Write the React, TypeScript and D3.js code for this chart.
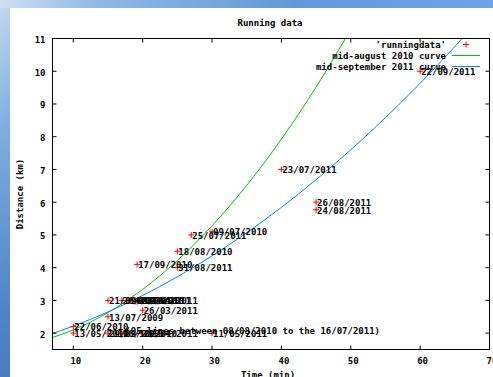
import React from "react";
import * as d3 from "d3";

const W = 493;
const H = 377;

// x ticks (min) and y ticks (km)
const xTicks = [10, 20, 30, 40, 50, 60, 70];
const yTicks = [2, 3, 4, 5, 6, 7, 8, 9, 10, 11];

// running data points: time (min), distance (km), date label
const runTimes = [60, 40, 45, 45, 30, 27, 25, 19.2, 25, 15, 17, 18, 19, 20, 20, 15, 10, 10, 15, 17, 20, 30];
const runDists = [10, 7, 6, 5.77, 5.1, 5.0, 4.5, 4.1, 4.0, 3, 3, 3, 3, 3, 2.7, 2.5, 2.2, 2, 2, 2, 2, 2];
const runLabels = [
  "22/09/2011", "23/07/2011", "26/08/2011", "24/08/2011", "09/07/2010", "25/07/2011",
  "18/08/2010", "17/09/2010", "31/08/2011", "21/09/2010", "26/10/2010", "14/11/2010",
  "08/04/2011", "19/04/2011", "26/03/2011", "13/07/2009", "22/06/2010", "13/05/2010",
  "29/09/2010", "16/10/2010", "20/04/2011", "11/05/2011",
];

// annotation
const noteText = "(95 lines between 08/08/2010 to the 16/07/2011)";
const noteT = 17.5;
const noteD = 2.07;

// mid-august 2010 curve (green)
const greenT = [7, 10, 15, 20, 25, 30, 35, 40, 45, 50];
const greenD = [1.866, 2.099, 2.629, 3.336, 4.219, 5.278, 6.513, 7.925, 9.514, 11.28];

// mid-september 2011 curve (blue)
const blueT = [7, 10, 15, 20, 25, 30, 35, 40, 45, 50, 55, 60, 65, 70];
const blueD = [1.988, 2.215, 2.649, 3.15, 3.721, 4.359, 5.067, 5.842, 6.687, 7.6, 8.582, 9.632, 10.752, 11.939];

const legendItems = ["'runningdata'", "mid-august 2010 curve", "mid-september 2011 curve"];

const FONT = "'DejaVu Sans Mono', 'Liberation Mono', monospace";

export default function App() {
  const left = 52.5, right = 489.5, top = 38.5, bottom = 349.5;
  const x = d3.scaleLinear().domain([7, 70]).range([left, right]);
  const y = d3.scaleLinear().domain([1.5, 11]).range([bottom, top]);

  const line = d3
    .line<[number, number]>()
    .x((p) => x(p[0]))
    .y((p) => y(p[1]))
    .curve(d3.curveMonotoneX);

  const greenPath = line(greenT.map((t, i) => [t, greenD[i]]) as [number, number][]) || "";
  const bluePath = line(blueT.map((t, i) => [t, blueD[i]]) as [number, number][]) || "";

  const textStyle = { fontFamily: FONT, fontSize: 9, fontWeight: 700 as const, fill: "#000" };
  const tick = 4;

  const plus = (cx: number, cy: number, key: string) => (
    <g key={key} stroke="#ff0000" strokeWidth={1}>
      <line x1={cx - 3} x2={cx + 3} y1={cy} y2={cy} />
      <line x1={cx} x2={cx} y1={cy - 3} y2={cy + 3} />
    </g>
  );

  return (
    <svg
      width={W}
      height={H}
      style={{ position: "absolute", left: 0, top: 0, display: "block" }}
    >
      <defs>
        <linearGradient id="bg" x1="0" y1="0" x2="0.6" y2="1">
          <stop offset="0" stopColor="#c3d9ef" />
          <stop offset="0.25" stopColor="#7eaee0" />
          <stop offset="0.6" stopColor="#4f86c8" />
          <stop offset="1" stopColor="#3a6fb2" />
        </linearGradient>
        <linearGradient id="topbg" x1="0" y1="0" x2="1" y2="0">
          <stop offset="0" stopColor="#cfe0f2" />
          <stop offset="0.2" stopColor="#8fb8e4" />
          <stop offset="0.6" stopColor="#5f9ada" />
          <stop offset="1" stopColor="#6aa6e6" />
        </linearGradient>
        <clipPath id="plotclip">
          <rect x={left} y={top} width={right - left} height={bottom - top} />
        </clipPath>
      </defs>
      <rect x={0} y={0} width={W} height={H} fill="url(#bg)" />
      <rect x={0} y={0} width={W} height={8} fill="url(#topbg)" />
      <rect x={10} y={8} width={W - 10} height={H - 8} fill="#ffffff" />

      {/* title */}
      <text x={270} y={26.3} textAnchor="middle" {...textStyle}>
        Running data
      </text>

      {/* curves */}
      <g clipPath="url(#plotclip)" fill="none" strokeWidth={1}>
        <path d={greenPath} stroke="#00c000" />
        <path d={bluePath} stroke="#0080ff" />
      </g>

      {/* frame */}
      <rect x={left} y={top} width={right - left} height={bottom - top} fill="none" stroke="#000" strokeWidth={1} />

      {/* x ticks */}
      {xTicks.map((t) => (
        <g key={"xt" + t}>
          <line x1={x(t)} x2={x(t)} y1={bottom} y2={bottom - tick} stroke="#000" />
          <line x1={x(t)} x2={x(t)} y1={top} y2={top + tick} stroke="#000" />
          <text x={x(t) + 2.5} y={363.5} textAnchor="middle" {...textStyle}>
            {t}
          </text>
        </g>
      ))}

      {/* y ticks */}
      {yTicks.map((v) => (
        <g key={"yt" + v}>
          <line x1={left} x2={left + tick} y1={y(v)} y2={y(v)} stroke="#000" />
          <line x1={right} x2={right - tick} y1={y(v)} y2={y(v)} stroke="#000" />
          <text x={45.5} y={y(v) + 4.5} textAnchor="end" {...textStyle}>
            {v}
          </text>
        </g>
      ))}

      {/* axis labels */}
      <text x={268} y={377.5} textAnchor="middle" {...textStyle}>
        Time (min)
      </text>
      <text
        transform={`translate(23,194) rotate(-90)`}
        textAnchor="middle"
        {...textStyle}
      >
        Distance (km)
      </text>

      {/* data points */}
      {runTimes.map((t, i) => plus(x(t), y(runDists[i]), "p" + i))}
      {runTimes.map((t, i) => (
        <text key={"l" + i} x={x(t) + 1} y={y(runDists[i]) + 3.8} {...textStyle}>
          {runLabels[i]}
        </text>
      ))}
      <text x={x(noteT)} y={y(noteD) + 3.6} {...textStyle}>
        {noteText}
      </text>

      {/* legend */}
      {legendItems.map((label, i) => {
        const ly = 44.5 + i * 10.8;
        return (
          <g key={"lg" + i}>
            <text x={446} y={ly + 3.4} textAnchor="end" {...textStyle}>
              {label}
            </text>
            {i === 0 ? (
              plus(466, ly, "lgp")
            ) : (
              <line
                x1={452}
                x2={480}
                y1={Math.round(ly) + 0.5}
                y2={Math.round(ly) + 0.5}
                stroke={i === 1 ? "#00c000" : "#0080ff"}
                strokeWidth={1}
              />
            )}
          </g>
        );
      })}
    </svg>
  );
}
